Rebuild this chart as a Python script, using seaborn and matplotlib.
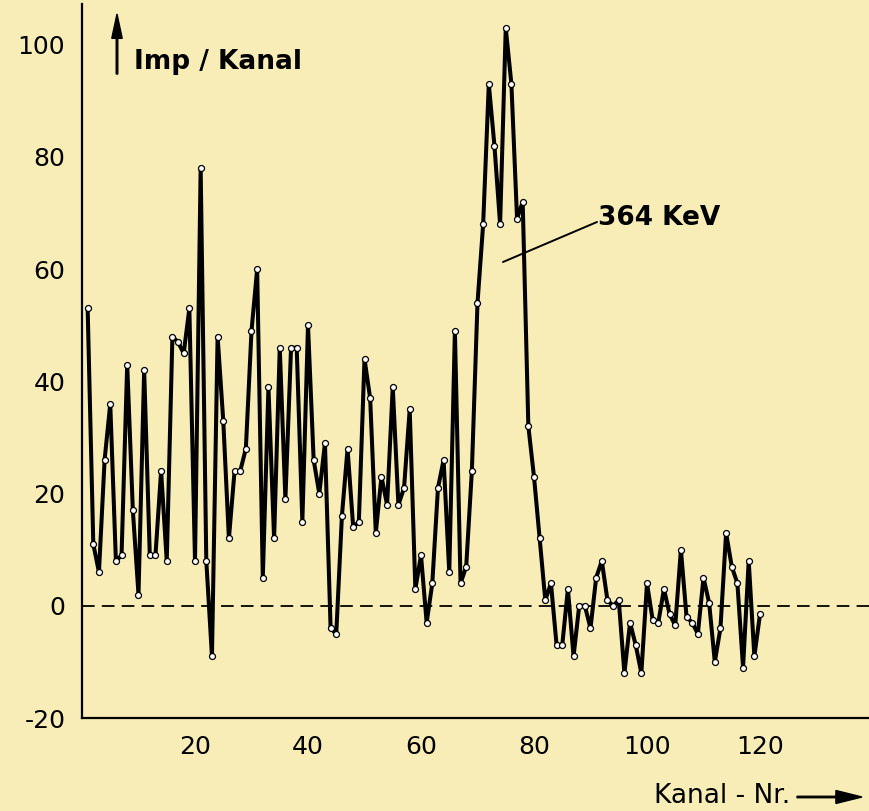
import matplotlib
matplotlib.use("Agg")
import matplotlib.pyplot as plt
import seaborn as sns
import numpy as np
import pandas as pd

# --- data (Imp/Kanal per channel) ---
channels = list(range(1, 121))
counts = [
    53, 11, 6, 26, 36, 8, 9, 43, 17, 2,
    42, 9, 9, 24, 8, 48, 47, 45, 53, 8,
    78, 8, -9, 48, 33, 12, 24, 24, 28, 49,
    60, 5, 39, 12, 46, 19, 46, 46, 15, 50,
    26, 20, 29, -4, -5, 16, 28, 14, 15, 44,
    37, 13, 23, 18, 39, 18, 21, 35, 3, 9,
    -3, 4, 21, 26, 6, 49, 4, 7, 24, 54,
    68, 93, 82, 68, 103, 93, 69, 72, 32, 23,
    12, 1, 4, -7, -7, 3, -9, 0, 0, -4,
    5, 8, 1, 0, 1, -12, -3, -7, -12, 4,
    -2.5, -3, 3, -1.5, -3.5, 10, -2, -3, -5, 5,
    0.5, -10, -4, 13, 7, 4, -11, 8, -9, -1.5,
]
x_tick_values = [20, 40, 60, 80, 100, 120]
y_tick_values = [-20, 0, 20, 40, 60, 80, 100]

df = pd.DataFrame({"Kanal": channels, "Imp": counts})

W, H = 870, 811
BG = "#F8EDB6"

sns.set_theme(style="white")
plt.rcParams["font.family"] = ["DejaVu Sans"]
plt.rcParams["axes.unicode_minus"] = False

fig = plt.figure(figsize=(W / 100, H / 100), dpi=100, facecolor=BG)

def fx(px):
    return px / W

def fy(py):
    return 1 - py / H

x0_px, y_bot_px, y_top_px = 82, 718, 4
px_per_ch = 5.65
px_per_unit = 5.61
ax = fig.add_axes([fx(x0_px), fy(y_bot_px), fx(W - x0_px), (y_bot_px - y_top_px) / H])
ax.set_facecolor(BG)

sns.lineplot(data=df, x="Kanal", y="Imp", ax=ax, color="black", linewidth=2.9,
             marker="o", markersize=4.3, markerfacecolor="white",
             markeredgecolor="black", markeredgewidth=0.9)

ax.set_xlim(0, (W - x0_px) / px_per_ch)
ax.set_ylim(-20, -20 + (y_bot_px - y_top_px) / px_per_unit)

ax.axhline(0, color="black", linewidth=1.3, dashes=(7, 4), zorder=0)

for s in ["top", "right"]:
    ax.spines[s].set_visible(False)
for s in ["left", "bottom"]:
    ax.spines[s].set_color("black")
    ax.spines[s].set_linewidth(1.6)

ax.set_xticks(x_tick_values)
ax.set_xticklabels([str(v) for v in x_tick_values])
ax.set_xticks(np.arange(10, 140, 10), minor=True)
ax.set_yticks(y_tick_values)
ax.set_yticklabels([str(v) for v in y_tick_values])
ax.set_yticks(np.arange(-20, 105, 10), minor=True)
ax.tick_params(axis="x", which="both", direction="in", length=9, width=1.3,
               colors="black", labelsize=18, pad=12)
ax.tick_params(axis="y", which="both", direction="out", length=8, width=1.3,
               colors="black", labelsize=18, pad=4)
ax.tick_params(axis="y", which="minor", length=5)
ax.set_xlabel("")
ax.set_ylabel("")

# y-axis label with upward arrow
fig.patches.append(matplotlib.patches.FancyArrow(
    fx(117), fy(74), 0, (74 - 14) / H, width=0.0018, head_width=0.012,
    head_length=0.03, length_includes_head=True, color="black",
    transform=fig.transFigure, figure=fig))
fig.text(fx(134), fy(62), "Imp / Kanal", fontsize=19, ha="left", va="center",
         color="black", fontweight="bold")

# peak annotation
fig.add_artist(matplotlib.lines.Line2D([fx(503), fx(597)], [fy(262), fy(222)],
                                       color="black", linewidth=1.4))
fig.text(fx(598), fy(218), "364 KeV", fontsize=19, ha="left", va="center",
         color="black", fontweight="bold")

# x-axis label with arrow
fig.text(fx(790), fy(796), "Kanal - Nr.", fontsize=19, ha="right", va="center",
         color="black")
fig.patches.append(matplotlib.patches.FancyArrow(
    fx(797), fy(797), fx(862 - 797), 0, width=0.0018, head_width=0.016,
    head_length=0.03, length_includes_head=True, color="black",
    transform=fig.transFigure, figure=fig))

fig.savefig("out.png", dpi=100, facecolor=BG)
